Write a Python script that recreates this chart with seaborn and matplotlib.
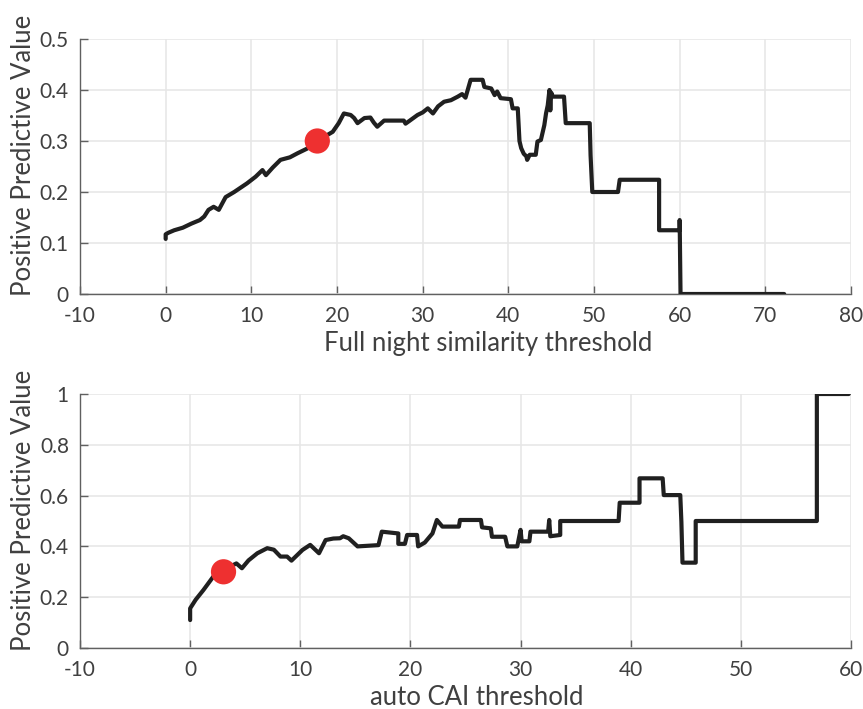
import numpy as np
import pandas as pd
import matplotlib
matplotlib.use("Agg")
import matplotlib.pyplot as plt
import seaborn as sns

# ---- data: full night similarity threshold vs PPV ----
full_x = [0.0, 0.0, 0.3, 1.0, 2.0, 3.0, 4.0, 4.5, 5.0, 5.6, 6.2, 7.0, 8.0, 9.5, 10.5, 11.3, 11.7,
          12.5, 13.4, 14.5, 15.4, 16.5, 17.7, 18.5, 19.5, 20.2, 20.8, 21.6, 22.0, 22.4, 23.2, 23.9,
          24.3, 24.7, 25.5, 26.5, 27.8, 28.0, 28.5, 29.4, 30.0, 30.6, 31.2, 31.8, 32.5, 33.3, 34.1,
          34.6, 35.0, 35.6, 37.0, 37.2, 38.0, 38.4, 38.7, 39.1, 40.3, 40.5, 41.1, 41.3, 41.5, 41.8,
          42.1, 42.2, 42.5, 43.2, 43.4, 43.8, 44.2, 44.4, 44.6, 44.8, 44.9, 45.0, 45.2, 46.5, 46.7,
          49.5, 49.6, 49.8, 52.8, 53.0, 57.6, 57.6, 60.0, 60.0, 60.1, 72.2]
full_ppv = [0.108, 0.117, 0.120, 0.125, 0.130, 0.138, 0.145, 0.152, 0.165, 0.171, 0.165, 0.190, 0.200,
            0.217, 0.230, 0.243, 0.233, 0.248, 0.263, 0.268, 0.276, 0.285, 0.300, 0.308, 0.318, 0.335,
            0.354, 0.351, 0.345, 0.335, 0.345, 0.346, 0.336, 0.328, 0.340, 0.340, 0.340, 0.334, 0.340,
            0.351, 0.356, 0.364, 0.354, 0.368, 0.377, 0.380, 0.387, 0.392, 0.385, 0.420, 0.420, 0.406,
            0.403, 0.390, 0.397, 0.384, 0.382, 0.364, 0.364, 0.300, 0.286, 0.275, 0.270, 0.263, 0.273,
            0.273, 0.299, 0.302, 0.331, 0.354, 0.370, 0.400, 0.360, 0.395, 0.387, 0.387, 0.335, 0.335,
            0.272, 0.200, 0.200, 0.224, 0.224, 0.125, 0.125, 0.145, 0.0, 0.0]
full_pt_x = [17.7]
full_pt_y = [0.30]

# ---- data: auto CAI threshold vs PPV ----
cai_x = [0.0, 0.0, 0.5, 1.2, 2.1, 3.0, 3.6, 4.2, 4.7, 5.3, 6.1, 7.0, 7.6, 8.2, 8.8, 9.2, 10.2, 10.9,
         11.7, 12.3, 13.0, 13.6, 13.9, 14.4, 15.2, 17.1, 17.4, 18.9, 18.9, 19.5, 19.7, 20.6, 20.7,
         21.3, 22.0, 22.4, 22.9, 24.4, 24.5, 26.4, 26.5, 27.3, 27.4, 28.6, 28.8, 29.7, 30.0, 30.1,
         30.8, 30.9, 32.5, 32.6, 32.7, 33.6, 33.6, 38.9, 39.0, 40.8, 40.8, 42.9, 43.0, 44.5, 44.6,
         44.7, 45.9, 45.9, 56.9, 56.9, 59.8]
cai_ppv = [0.11, 0.156, 0.190, 0.228, 0.281, 0.300, 0.320, 0.333, 0.314, 0.345, 0.373, 0.393, 0.387,
           0.360, 0.360, 0.344, 0.386, 0.406, 0.373, 0.425, 0.431, 0.432, 0.440, 0.432, 0.400, 0.405,
           0.458, 0.451, 0.410, 0.410, 0.445, 0.445, 0.400, 0.415, 0.451, 0.504, 0.478, 0.478, 0.504,
           0.504, 0.475, 0.471, 0.438, 0.438, 0.400, 0.400, 0.465, 0.420, 0.420, 0.458, 0.458, 0.504,
           0.440, 0.445, 0.500, 0.500, 0.572, 0.572, 0.668, 0.668, 0.602, 0.602, 0.497, 0.336, 0.336,
           0.500, 0.500, 1.0, 1.0]
cai_pt_x = [3.03]
cai_pt_y = [0.30]

full_xticks = [-10, 0, 10, 20, 30, 40, 50, 60, 70, 80]
full_yticks = [0, 0.1, 0.2, 0.3, 0.4, 0.5]
cai_xticks = [-10, 0, 10, 20, 30, 40, 50, 60]
cai_yticks = [0, 0.2, 0.4, 0.6, 0.8, 1.0]

sns.set_theme(style="whitegrid")
plt.rcParams['font.family'] = ['Lato', 'DejaVu Sans']

TXT = "#404040"
LINE = "#202020"
RED = "#ee3030"

fig = plt.figure(figsize=(8.63, 7.09), dpi=100)
ax1 = fig.add_axes([80 / 863, 1 - 294 / 709, 771 / 863, 255 / 709])
ax2 = fig.add_axes([80 / 863, 1 - 648 / 709, 771 / 863, 254 / 709])


def style(ax, xlim, ylim, xt, yt, xlabel, xlab_x):
    ax.set_xlim(*xlim)
    ax.set_ylim(*ylim)
    ax.set_xticks(xt)
    ax.set_yticks(yt)
    ax.set_xticklabels([f"{v:g}" for v in xt])
    ax.set_yticklabels([f"{v:g}" for v in yt])
    ax.grid(True, color="#e6e6e6", linewidth=1.1)
    ax.set_facecolor("white")
    for s in ["top", "right"]:
        ax.spines[s].set_visible(False)
    for s in ["left", "bottom"]:
        ax.spines[s].set_visible(True)
        ax.spines[s].set_color("#606060")
        ax.spines[s].set_linewidth(1.0)
    ax.tick_params(axis="both", direction="in", length=6, width=1.0, color="#606060",
                   labelcolor=TXT, labelsize=15, bottom=True, left=True)
    ax.tick_params(axis="x", pad=9)
    ax.tick_params(axis="y", pad=8)
    ax.set_xlabel(xlabel, fontsize=18.5, color=TXT, labelpad=3)
    ax.set_ylabel("Positive Predictive Value", fontsize=18.5, color=TXT, labelpad=3)
    ax.xaxis.label.set_x(xlab_x)
    ax.yaxis.label.set_y(0.543)


df1 = pd.DataFrame({"x": full_x, "y": full_ppv})
sns.lineplot(data=df1, x="x", y="y", ax=ax1, sort=False, estimator=None,
             color=LINE, linewidth=3.0, zorder=3)
sns.scatterplot(x=full_pt_x, y=full_pt_y, ax=ax1, color=RED, s=330, edgecolor="none", zorder=4)
style(ax1, (-10, 80), (0, 0.5), full_xticks, full_yticks, "Full night similarity threshold", 0.53)

df2 = pd.DataFrame({"x": cai_x, "y": cai_ppv})
sns.lineplot(data=df2, x="x", y="y", ax=ax2, sort=False, estimator=None,
             color=LINE, linewidth=3.0, zorder=3)
sns.scatterplot(x=cai_pt_x, y=cai_pt_y, ax=ax2, color=RED, s=330, edgecolor="none", zorder=4)
style(ax2, (-10, 60), (0, 1), cai_xticks, cai_yticks, "auto CAI threshold", 0.515)

fig.savefig("out.png", dpi=100)
